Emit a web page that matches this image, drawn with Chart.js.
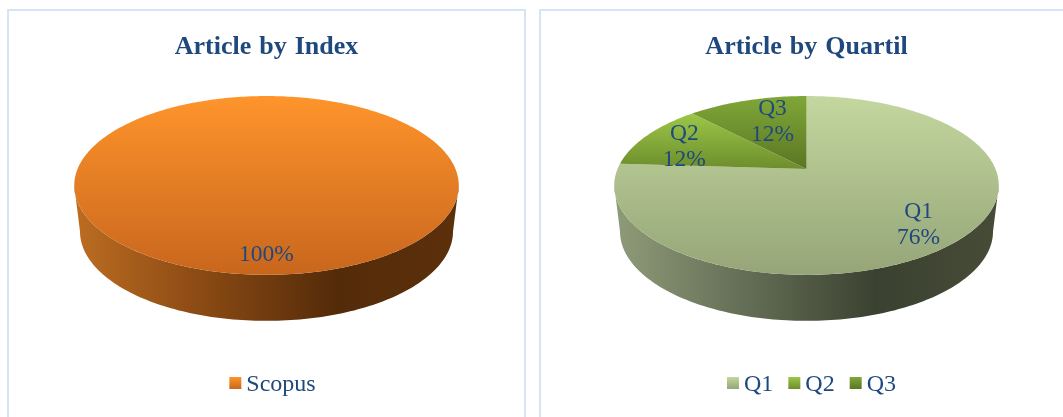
<!DOCTYPE html>
<html>
<head>
<meta charset="utf-8">
<title>Article by Index and Quartil</title>
<script src="https://cdn.jsdelivr.net/npm/chart.js@4"></script>
<style>
    html, body { margin: 0; background: #fff; overflow: hidden; }
    .panel { position: absolute; top: 9px; height: 430px; border: 2px solid #d5e5f5; box-sizing: border-box; }
    canvas { position: absolute; top: 0; }
</style>
</head>
<body>
<div class="panel" style="left:7px;width:519px"></div>
<div class="panel" style="left:539px;width:535px"></div>
<canvas id="chart-index" style="left:7px" width="519" height="417"></canvas>
<canvas id="chart-quartil" style="left:539px" width="535" height="417"></canvas>
<script>
// Chart data
const indexLabels = ["Scopus"];
const indexValues = [100];
const quartilLabels = ["Q1", "Q2", "Q3"];
const quartilValues = [76, 12, 12];

const textColor = "#1f497d";
const serif = "'Liberation Serif', serif";

// Perspective used for the tilted disc (u, v on the unit circle)
const RADIUS = 189;
const TILT = 0.184;
const Y_SPREAD = 55.3;
const APEX_Y = 169;
const DEPTH = 46;
const BOTTOM_SCALE = 0.97;

function project(arc, u, v, rho) {
    const den = 1 - TILT * v * rho;
    return {
        x: arc.x + RADIUS * u * rho / den,
        y: (Y_SPREAD * v * rho + APEX_Y) / den
    };
}

function rimPoints(arc, start, end) {
    const steps = Math.max(4, Math.ceil((end - start) / 0.02));
    const pts = [];
    for (let i = 0; i <= steps; i++) {
        const a = start + (end - start) * i / steps;
        pts.push(project(arc, Math.cos(a), Math.sin(a), 1));
    }
    return pts;
}

function tracePath(ctx, pts) {
    ctx.beginPath();
    pts.forEach((p, i) => (i ? ctx.lineTo(p.x, p.y) : ctx.moveTo(p.x, p.y)));
    ctx.closePath();
}

function drawWall(ctx, arc, colors) {
    // the wall runs between the widest points of the rim, front side only
    const widest = Math.asin(TILT);
    const start = Math.max(arc.startAngle, widest);
    const end = Math.min(arc.endAngle, Math.PI - widest);
    if (end <= start) return;
    const upper = rimPoints(arc, start, end);
    const lower = upper.map((p) => ({
        x: arc.x + (p.x - arc.x) * BOTTOM_SCALE,
        y: p.y + DEPTH
    })).reverse();
    const left = arc.x - RADIUS * 1.02;
    const span = RADIUS * 2.04;
    const grad = ctx.createLinearGradient(left, 0, left + span, 0);
    colors.forEach((c) => grad.addColorStop(c[0], c[1]));
    ctx.fillStyle = grad;
    tracePath(ctx, upper.concat(lower));
    ctx.fill();
}

function drawTop(ctx, arc, top, bottom) {
    const pts = [project(arc, 0, 0, 1)].concat(rimPoints(arc, arc.startAngle, arc.endAngle));
    const ys = pts.map((p) => p.y);
    const grad = ctx.createLinearGradient(0, Math.min(...ys), 0, Math.max(...ys));
    grad.addColorStop(0, top);
    grad.addColorStop(1, bottom);
    ctx.fillStyle = grad;
    tracePath(ctx, pts);
    ctx.fill();
}

// Tilted disc, value labels and square legend
const discPlugin = {
    id: "disc",
    beforeDatasetDraw(chart) {
        const ctx = chart.ctx;
        const opts = chart.options.plugins.disc;
        const arcs = chart.getDatasetMeta(0).data;
        const values = chart.data.datasets[0].data;
        ctx.save();
        arcs.forEach((arc) => drawWall(ctx, arc, opts.wall));
        arcs.forEach((arc, i) => drawTop(ctx, arc, opts.tops[i], opts.bottoms[i]));

        ctx.fillStyle = textColor;
        ctx.font = "23.5px " + serif;
        ctx.textAlign = "center";
        ctx.textBaseline = "middle";
        arcs.forEach((arc, i) => {
            const mid = (arc.startAngle + arc.endAngle) / 2;
            const p = project(arc, Math.cos(mid), Math.sin(mid), opts.labelRadius[i]);
            const text = values[i] + "%";
            const x = p.x + opts.labelShift[i][0];
            const y = p.y + opts.labelShift[i][1];
            if (opts.showName) {
                ctx.fillText(chart.data.labels[i], x, y - 13);
                ctx.fillText(text, x, y + 13);
            } else {
                ctx.fillText(text, x, y);
            }
        });
        ctx.restore();
        return false;
    },
    afterDraw(chart) {
        const ctx = chart.ctx;
        const opts = chart.options.plugins.disc;
        const labels = chart.data.labels;
        ctx.save();
        ctx.font = "24px " + serif;
        ctx.textBaseline = "middle";
        const box = 12, gap = 5, between = 15;
        const widths = labels.map((t) => ctx.measureText(t).width);
        const total = widths.reduce((s, w) => s + w + box + gap, 0) + between * (labels.length - 1);
        let x = chart.width / 2 - total / 2 + opts.legendShift;
        labels.forEach((t, i) => {
            const grad = ctx.createLinearGradient(0, 377, 0, 389);
            grad.addColorStop(0, opts.tops[i]);
            grad.addColorStop(1, opts.bottoms[i]);
            ctx.fillStyle = grad;
            ctx.fillRect(x, 377, box, box);
            ctx.fillStyle = textColor;
            ctx.fillText(t, x + box + gap, 385);
            x += box + gap + widths[i] + between;
        });
        ctx.restore();
    }
};

function makeChart(id, titleText, labels, values, disc) {
    const chart = new Chart(document.getElementById(id), {
        type: "pie",
        data: {
            labels: labels,
            datasets: [{ data: values, backgroundColor: disc.tops, borderWidth: 0 }]
        },
        options: {
            responsive: false,
            animation: false,
            events: [],
            plugins: {
                legend: { display: false },
                tooltip: { enabled: false },
                title: {
                    display: true,
                    text: titleText,
                    color: textColor,
                    font: { family: serif, size: 26, weight: "bold" },
                    padding: { top: 32, bottom: 0 }
                },
                disc: disc
            }
        },
        plugins: [discPlugin]
    });
    // slightly wider gaps between the title words
    chart.ctx.wordSpacing = "1.5px";
    chart.draw();
    return chart;
}

makeChart("chart-index", "Article by Index", indexLabels, indexValues, {
    tops: ["#fe942b"],
    bottoms: ["#c8661d"],
    wall: [[0, "#bd6d21"], [0.3, "#8f4d15"], [0.68, "#542b09"], [1, "#5c300b"]],
    labelRadius: [0.83],
    labelShift: [[0, 1]],
    showName: false,
    legendShift: 6
});

makeChart("chart-quartil", "Article by Quartil", quartilLabels, quartilValues, {
    tops: ["#c4d79f", "#9cc748", "#80a738"],
    bottoms: ["#95a578", "#6d8d2c", "#5b7623"],
    wall: [[0, "#8f9c78"], [0.3, "#69735a"], [0.68, "#3b4130"], [1, "#464c37"]],
    labelRadius: [0.77, 0.75, 0.62],
    labelShift: [[1, 2], [-1, 4], [5, -2]],
    showName: true,
    legendShift: 5
});
</script>
</body>
</html>
